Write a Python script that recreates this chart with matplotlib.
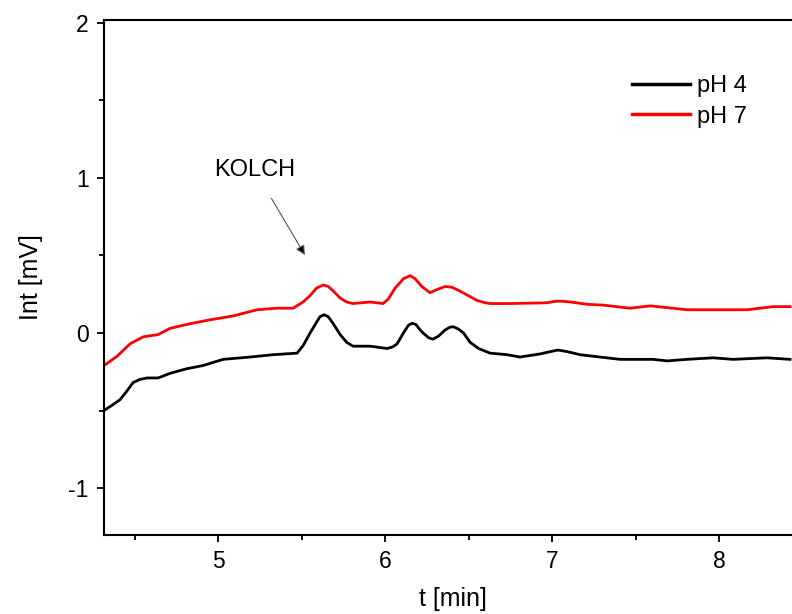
import matplotlib
matplotlib.use("Agg")
import matplotlib.pyplot as plt
from matplotlib.ticker import MultipleLocator

plt.rcParams['font.family'] = ['Liberation Sans', 'DejaVu Sans']
plt.rcParams['axes.unicode_minus'] = False

# pH 4 (black)
t_ph4 = [4.317, 4.360, 4.413, 4.450, 4.491, 4.530, 4.575, 4.641, 4.713, 4.814,
         4.910, 5.030, 5.192, 5.329, 5.473, 5.510, 5.551, 5.590, 5.610, 5.635,
         5.660, 5.690, 5.731, 5.770, 5.808, 5.910, 6.012, 6.045, 6.072, 6.110,
         6.140, 6.162, 6.185, 6.210, 6.228, 6.260, 6.287, 6.320, 6.360, 6.390,
         6.410, 6.440, 6.470, 6.509, 6.560, 6.629, 6.731, 6.808, 6.928, 6.990,
         7.036, 7.090, 7.168, 7.287, 7.407, 7.605, 7.689, 7.808, 7.964, 8.084,
         8.287, 8.425]
v_ph4 = [-0.50, -0.47, -0.43, -0.38, -0.32, -0.30, -0.29, -0.29, -0.26, -0.23,
         -0.21, -0.17, -0.155, -0.14, -0.13, -0.08, 0.00, 0.07, 0.105, 0.118,
         0.105, 0.06, -0.01, -0.06, -0.085, -0.085, -0.10, -0.09, -0.07, 0.00,
         0.05, 0.063, 0.055, 0.02, 0.00, -0.03, -0.04, -0.02, 0.02, 0.038,
         0.04, 0.025, 0.00, -0.06, -0.10, -0.13, -0.14, -0.155, -0.135, -0.12,
         -0.11, -0.12, -0.14, -0.155, -0.17, -0.17, -0.18, -0.17, -0.16, -0.17,
         -0.16, -0.17]

# pH 7 (red)
t_ph7 = [4.317, 4.395, 4.473, 4.551, 4.641, 4.713, 4.832, 4.952, 5.090, 5.234,
         5.353, 5.449, 5.509, 5.550, 5.590, 5.629, 5.660, 5.700, 5.731, 5.770,
         5.808, 5.910, 5.988, 6.020, 6.060, 6.110, 6.150, 6.180, 6.220, 6.269,
         6.310, 6.360, 6.400, 6.440, 6.500, 6.551, 6.600, 6.629, 6.749, 6.970,
         7.020, 7.060, 7.110, 7.210, 7.305, 7.467, 7.587, 7.808, 8.006, 8.168,
         8.323, 8.425]
v_ph7 = [-0.21, -0.15, -0.07, -0.025, -0.01, 0.03, 0.06, 0.085, 0.11, 0.15,
         0.16, 0.16, 0.20, 0.24, 0.29, 0.31, 0.30, 0.26, 0.225, 0.20,
         0.19, 0.20, 0.19, 0.22, 0.29, 0.35, 0.37, 0.35, 0.30, 0.26,
         0.28, 0.30, 0.295, 0.275, 0.24, 0.21, 0.195, 0.19, 0.19, 0.195,
         0.205, 0.205, 0.20, 0.185, 0.18, 0.16, 0.175, 0.15, 0.15, 0.15,
         0.17, 0.17]

x_major = [5, 6, 7, 8]
y_major = [-1, 0, 1, 2]

fig = plt.figure(figsize=(7.92, 6.14), dpi=100)
ax = fig.add_axes([104/792, 1-535/614, (8.5-4.317)*167/792, (535-20)/614])

ax.plot(t_ph4, v_ph4, color='black', lw=2.0, label='pH 4')
ax.plot(t_ph7, v_ph7, color='#ff0000', lw=2.0, label='pH 7')

ax.set_xlim(4.317, 8.5)
ax.set_ylim(-1.303, 2.019)
ax.set_xticks(x_major)
ax.set_yticks(y_major)
ax.xaxis.set_minor_locator(MultipleLocator(0.5))
ax.yaxis.set_minor_locator(MultipleLocator(0.5))
ax.tick_params(which='major', direction='out', length=5, width=1.3, labelsize=16.5, pad=6)
ax.tick_params(which='minor', direction='out', length=3.5, width=1.3)
for s in ax.spines.values():
    s.set_linewidth(1.5)

ax.set_xlabel('t [min]', fontsize=18, labelpad=10)
ax.set_ylabel('Int [mV]', fontsize=18, labelpad=18)

ax.annotate('KOLCH', xy=(5.52, 0.503), xytext=(5.22, 1.05), fontsize=17,
            ha='center', va='center',
            arrowprops=dict(arrowstyle='-|>', color='#555555', lw=0.8,
                            mutation_scale=14, shrinkA=12, shrinkB=0,
                            fc='black'))

leg = ax.legend(loc='upper left', bbox_to_anchor=(632/792, 1-75/614),
                bbox_transform=fig.transFigure, frameon=False, borderpad=0,
                borderaxespad=0, fontsize=17, handlelength=2.45,
                handletextpad=0.3, labelspacing=0.37)
for line in leg.get_lines():
    line.set_linewidth(2.5)

fig.savefig('out.png', dpi=100)
